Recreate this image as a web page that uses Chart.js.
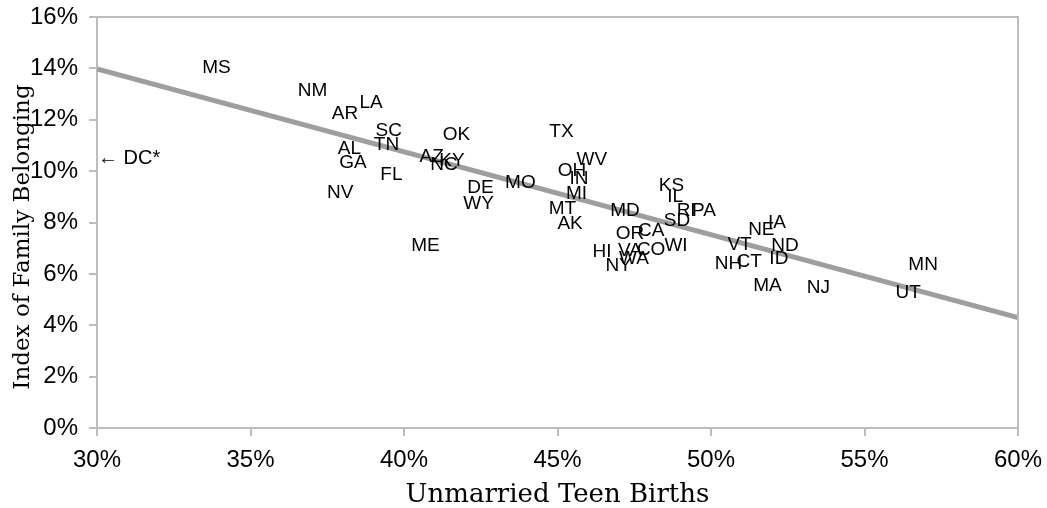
<!DOCTYPE html>
<html>
<head>
<meta charset="utf-8">
<title>Family Belonging vs Unmarried Teen Births</title>
<script src="https://cdn.jsdelivr.net/npm/chart.js@4"></script>
<style>
  body { margin: 0; background: #fff; }
  #chart { display: block; }
</style>
</head>
<body>
<canvas id="chart" width="1047" height="508"></canvas>
<script>
// ===== DATA =====
const states = ["MS","NM","AR","LA","SC","TN","AL","GA","FL","NV",
  "OK","TX","AZ","NC","KY","DE","WY","MO","ME",
  "WV","OH","IN","MI","MT","AK","MD",
  "KS","IL","RI","PA","SD",
  "OR","CA","HI","VA","CO","WI","WA","NY",
  "NE","IA","VT","ND","NH","CT","ID","MA","NJ",
  "MN","UT"];

// unmarried teen births (%)
const teenBirths = [33.89, 37.02, 38.08, 38.93, 39.50, 39.43, 38.22, 38.34, 39.59, 37.92,
  41.71, 45.13, 40.90, 41.30, 41.56, 42.49, 42.43, 43.79, 40.70,
  46.12, 45.47, 45.70, 45.62, 45.16, 45.41, 47.20,
  48.71, 48.83, 49.19, 49.77, 48.89,
  47.36, 48.05, 46.45, 47.36, 48.05, 48.86, 47.49, 46.99,
  51.64, 52.15, 50.93, 52.41, 50.57, 51.24, 52.21, 51.84, 53.50,
  56.91, 56.42];

// index of family belonging (%)
const belonging = [14.05, 13.17, 12.26, 12.69, 11.60, 11.06, 10.90, 10.35, 9.89, 9.19,
  11.46, 11.56, 10.61, 10.28, 10.43, 9.40, 8.78, 9.60, 7.14,
  10.47, 10.06, 9.75, 9.17, 8.58, 7.98, 8.49,
  9.48, 9.05, 8.49, 8.49, 8.12,
  7.61, 7.73, 6.91, 6.93, 6.99, 7.12, 6.64, 6.34,
  7.77, 8.04, 7.18, 7.14, 6.44, 6.52, 6.64, 5.57, 5.51,
  6.40, 5.31];

// DC is off the left edge of the x range
const offLabels = ["\u2190 DC*"];
const offBelonging = [10.53];

// trend line end points
const trendX = [30, 60];
const trendY = [13.98, 4.30];

const xTicks = [30, 35, 40, 45, 50, 55, 60];
const yTicks = [0, 2, 4, 6, 8, 10, 12, 14, 16];

const xTitle = "Unmarried Teen Births";
const yTitle = "Index of Family Belonging";

// ===== STYLE =====
const axisColor = "#bdbdbd";
const sansFont = "'Liberation Sans', Arial, sans-serif";
const serifFont = "'DejaVu Serif', serif";

// draws the state abbreviations, the box and the axis titles
const labelPlugin = {
    id: "stateLabels",
    afterDatasetsDraw(chart) {
        const ctx = chart.ctx;
        const meta = chart.getDatasetMeta(1);
        ctx.save();
        ctx.fillStyle = "#000";
        ctx.font = "19px " + sansFont;
        ctx.textAlign = "center";
        ctx.textBaseline = "middle";
        meta.data.forEach((pt, i) => {
            ctx.fillText(states[i], pt.x, pt.y + 1);
        });

        // off-scale label(s), pinned to the left axis
        ctx.font = "20px " + sansFont;
        ctx.textAlign = "left";
        const xs = chart.scales.x, ys = chart.scales.y;
        offLabels.forEach((t, i) => {
            ctx.fillText(t, xs.getPixelForValue(xTicks[0]) + 1, ys.getPixelForValue(offBelonging[i]) + 1);
        });
        ctx.restore();
    },
    afterDraw(chart) {
        const ctx = chart.ctx;
        const a = chart.chartArea;
        ctx.save();
        ctx.strokeStyle = axisColor;
        ctx.lineWidth = 2;
        ctx.beginPath();
        ctx.moveTo(a.left, a.top);
        ctx.lineTo(a.right, a.top);
        ctx.lineTo(a.right, a.bottom);
        ctx.stroke();

        ctx.fillStyle = "#000";
        ctx.font = "26px " + serifFont;
        ctx.textAlign = "center";
        ctx.textBaseline = "alphabetic";
        ctx.fillText(xTitle, (a.left + a.right) / 2, 502);

        ctx.font = "23px " + serifFont;
        ctx.translate(29, 237);
        ctx.rotate(-Math.PI / 2);
        ctx.fillText(yTitle, 0, 0);
        ctx.restore();
    }
};

const ctx = document.getElementById("chart").getContext("2d");

new Chart(ctx, {
    type: "scatter",
    data: {
        datasets: [{
            type: "line",
            label: "Trend",
            data: trendX.map((x, i) => ({ x: x, y: trendY[i] })),
            borderColor: "#9e9e9e",
            borderWidth: 5,
            pointRadius: 0,
            fill: false
        }, {
            label: "States",
            data: teenBirths.map((x, i) => ({ x: x, y: belonging[i] })),
            pointRadius: 0,
            pointHoverRadius: 0
        }]
    },
    options: {
        responsive: false,
        devicePixelRatio: 1,
        animation: false,
        layout: { padding: { top: 17, right: 29, left: 0, bottom: 0 } },
        plugins: {
            legend: { display: false },
            tooltip: { enabled: false }
        },
        scales: {
            x: {
                type: "linear",
                min: 30,
                max: 60,
                afterBuildTicks: s => { s.ticks = xTicks.map(v => ({ value: v })); },
                afterFit: s => { s.height = 80; s.paddingLeft = 0; s.paddingRight = 0; },
                ticks: {
                    callback: v => v + "%",
                    color: "#000",
                    font: { family: sansFont, size: 24 },
                    padding: 10,
                    maxRotation: 0
                },
                grid: {
                    drawOnChartArea: false,
                    tickLength: 8,
                    color: axisColor,
                    lineWidth: 2
                },
                border: { color: axisColor, width: 2 }
            },
            y: {
                type: "linear",
                min: 0,
                max: 16,
                afterBuildTicks: s => { s.ticks = yTicks.map(v => ({ value: v })); },
                afterFit: s => { s.width = 97; s.paddingTop = 0; s.paddingBottom = 0; },
                ticks: {
                    callback: v => v + "%",
                    color: "#000",
                    font: { family: sansFont, size: 24 },
                    padding: 11
                },
                grid: {
                    drawOnChartArea: false,
                    tickLength: 8,
                    color: axisColor,
                    lineWidth: 2
                },
                border: { color: axisColor, width: 2 }
            }
        }
    },
    plugins: [labelPlugin]
});
</script>
</body>
</html>
